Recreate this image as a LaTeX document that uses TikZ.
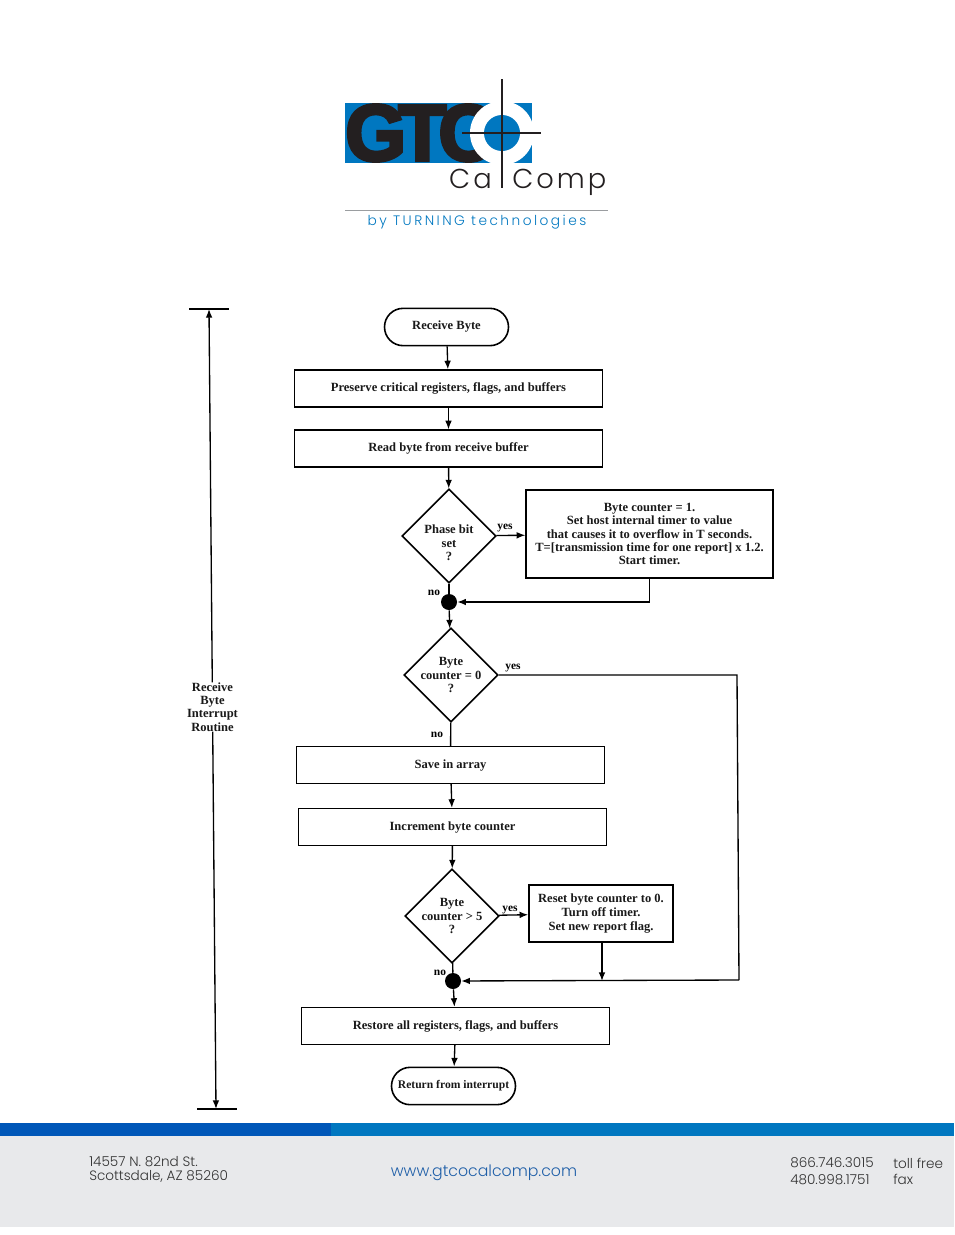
\documentclass[tikz,border=0pt]{standalone}
\usepackage{fontspec}
\setmainfont{Liberation Serif}
\newfontfamily\gtcfont[FakeBold=4]{Liberation Sans Bold}
\newfontfamily\foot{Poppins Light}
\usetikzlibrary{positioning,shapes,shapes.misc,arrows,arrows.meta}
\definecolor{gtcblue}{HTML}{0077C0}
\definecolor{banddark}{HTML}{0057B8}
\definecolor{footgrey}{HTML}{E8E9EB}
\definecolor{rulegrey}{HTML}{9A9DA0}
\definecolor{inkblack}{HTML}{231F20}
\definecolor{urlblue}{HTML}{1F5FA8}
\tikzset{
  flow/.style={font=\fontsize{9.4}{10}\selectfont\bfseries,align=center,inner sep=0pt,text=black!90},
  proc/.style={flow,draw,line width=1.2pt,minimum width=231pt,minimum height=27.5pt},
  term/.style={flow,draw,rounded rectangle,line width=1.2pt,minimum width=93pt,minimum height=28pt},
  cond/.style={flow,draw,diamond,aspect=1,line width=1.2pt,inner sep=-8pt,minimum width=70.5pt,minimum height=70.5pt},
  dot/.style={circle,fill=black,inner sep=0pt,minimum size=12pt},
  tag/.style={font=\fontsize{8.6}{10}\selectfont\bfseries,inner sep=0pt},
  link/.style={line width=1pt,-{Latex[length=6.5pt,width=5pt]}},
  wire/.style={line width=1pt},
  addr/.style={font=\foot\fontsize{10.2}{12}\selectfont,text=black!80,inner sep=0pt,anchor=west},
}
\begin{document}
\begin{tikzpicture}[x=0.75pt,y=-0.75pt]
\useasboundingbox (0,0) rectangle (954,1235);
% logo
\fill[gtcblue] (345,103) rectangle (532,163);
\node[inner sep=0pt,anchor=west,text=inkblack] (gtc) at (345,133) {\scalebox{0.98}[1]{\gtcfont\fontsize{60}{60}\selectfont G\kern-6pt T\kern-6pt C}};
\fill[white] (502,133) circle (32);
\fill[gtcblue] (502,133) circle (18);
\draw[line width=0.9pt,inkblack] (502,79) -- (502,188) (462,133) -- (541,133);
\node[inner sep=0pt,anchor=base east,text=inkblack,font=\foot\fontsize{20.5}{21}\selectfont] (ca) at (492,188) {\addfontfeature{LetterSpace=11}Ca};
\node[inner sep=0pt,anchor=base west,text=inkblack,font=\foot\fontsize{20.5}{21}\selectfont] (comp) at (512,188) {\addfontfeature{LetterSpace=11}Comp};
\draw[rulegrey,line width=0.7pt] (345,210) -- (608,210);
\node[inner sep=0pt,text=gtcblue,font=\foot\fontsize{10.3}{12}\selectfont] (by) at (477,222.5) {\addfontfeature{LetterSpace=18}by TURNING technologies};
% flow chart
\node[term] (start) at (446.5,327) {Receive Byte};
\node[proc] (save) at (448.5,388.5) {Preserve critical registers, flags, and buffers};
\node[proc] (read) at (448.5,448.5) {Read byte from receive buffer};
\node[cond] (phase) at (449,536) {\rule{0pt}{17pt}Phase bit\\set\\?};
\node[flow,draw,line width=1.2pt,minimum width=185pt,minimum height=66pt] (setup) at (649.5,534) {Byte counter = 1.\\Set host internal timer to value\\that causes it to overflow in T seconds.\\T=[transmission time for one report] x 1.2.\\Start timer.};
\node[dot] (joina) at (449,602) {};
\node[cond] (zero) at (451,675) {Byte\\counter = 0\\?};
\node[proc] (store) at (450.5,765) {Save in array};
\node[proc] (incr) at (452.5,827) {Increment byte counter};
\node[cond] (five) at (452,916) {Byte\\counter > 5\\?};
\node[flow,draw,line width=1.2pt,minimum width=108pt,minimum height=43pt,font=\fontsize{9.4}{10.5}\selectfont\bfseries] (reset) at (601,913.5) {Reset byte counter to 0.\\Turn off timer.\\Set new report flag.};
\node[dot] (joinb) at (453,981) {};
\node[proc] (restore) at (455.5,1026) {Restore all registers, flags, and buffers};
\node[term,font=\fontsize{8.7}{10}\selectfont\bfseries] (stop) at (453.5,1086) {Return from interrupt};
\coordinate (topright) at (737,675);
\coordinate (botright) at (739,980);
\coordinate (resetfoot) at (602,981);
% connectors
\draw[link] (start) -- (save);
\draw[link] (save) -- (read);
\draw[link] (read) -- (phase);
\draw[link] (phase) -- (setup);
\draw[wire] (phase) -- (joina);
\draw[link] (setup.south) |- (joina);
\draw[link] (joina) -- (zero);
\draw[wire] (zero.east) -- (topright) -- (botright);
\draw[link] (botright) -- (joinb);
\draw[wire] (zero) -- (store);
\draw[link] (store) -- (incr);
\draw[link] (incr) -- (five);
\draw[link] (five) -- (reset);
\draw[link] (reset.south -| resetfoot) -- (resetfoot);
\draw[wire] (five) -- (joinb);
\draw[link] (joinb) -- (restore);
\draw[link] (restore) -- (stop);
% yes/no
\node[tag] (yesa) at (505,528.5) {yes};
\node[tag] (noa) at (434,593) {no};
\node[tag] (yesb) at (513,668.5) {yes};
\node[tag] (nob) at (437,735) {no};
\node[tag] (yesc) at (510,910) {yes};
\node[tag] (noc) at (440,973) {no};
% extent of routine
\coordinate (uptick) at (209,309);
\coordinate (lowtick) at (216,1109);
\coordinate (upl) at (189,309);
\coordinate (upr) at (229,309);
\coordinate (lowl) at (197,1109);
\coordinate (lowr) at (237,1109);
\node[flow] (extent) at (212.5,707) {Receive\\Byte\\Interrupt\\Routine};
\draw[wire] (upl) -- (upr);
\draw[wire] (lowl) -- (lowr);
\draw[link] (extent) -- (uptick);
\draw[link] (extent) -- (lowtick);
% footer
\fill[footgrey] (0,1136) rectangle (954,1227);
\fill[banddark] (0,1123) rectangle (331,1136);
\fill[gtcblue] (331,1123) rectangle (954,1136);
\node[addr] (street) at (89,1162) {14557 N. 82nd St.};
\node[addr] (city) at (89,1176.5) {Scottsdale, AZ 85260};
\node[addr,text=urlblue,font=\foot\fontsize{11.8}{14}\selectfont,anchor=center] (url) at (484,1173) {www.gtcocalcomp.com};
\node[addr] (tel) at (790,1163) {866.746.3015};
\node[addr] (fax) at (790,1179.5) {480.998.1751};
\node[addr] (telnote) at (893,1163) {toll free};
\node[addr] (faxnote) at (893,1179.5) {fax};
\end{tikzpicture}
\end{document}
